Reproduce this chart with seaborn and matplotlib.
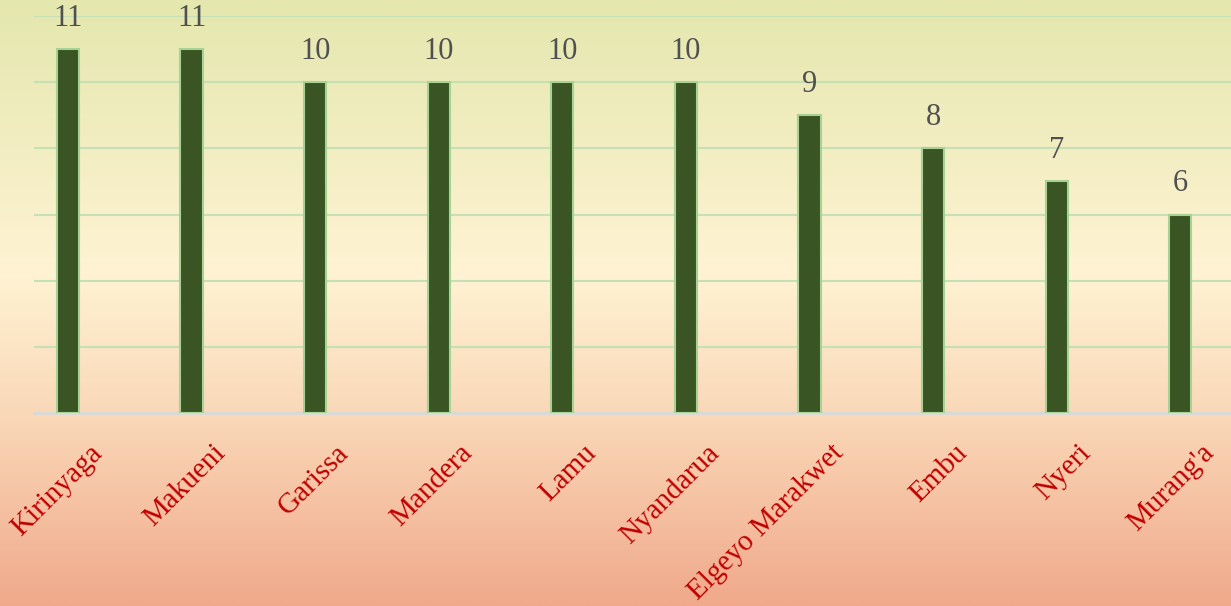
import numpy as np
import pandas as pd
import matplotlib.pyplot as plt
import matplotlib.transforms as mtransforms
from matplotlib.colors import LinearSegmentedColormap
import seaborn as sns

counties = ["Kirinyaga", "Makueni", "Garissa", "Mandera", "Lamu",
            "Nyandarua", "Elgeyo Marakwet", "Embu", "Nyeri", "Murang'a"]
counts = [11, 11, 10, 10, 10, 10, 9, 8, 7, 6]

df = pd.DataFrame({"county": counties, "count": counts})

sns.set_style("white")
plt.rcParams['font.family'] = ['Liberation Serif', 'DejaVu Serif']

fig = plt.figure(figsize=(12.31, 6.06), dpi=100)

# gradient background over the whole figure
bg = fig.add_axes([0, 0, 1, 1], zorder=0)
grad = LinearSegmentedColormap.from_list(
    "bg", [(0, "#E4E7AE"), (0.45, "#FFF3D3"), (0.7, "#F9D6B6"), (1, "#F0A98B")])
bg.imshow(np.linspace(0, 1, 256).reshape(-1, 1), aspect="auto", cmap=grad,
          extent=[0, 1, 0, 1])
bg.axis("off")

ax = fig.add_axes([34 / 1231, 1 - 413 / 606, 1 - 34 / 1231, (413 - 16) / 606], zorder=1)
ax.patch.set_alpha(0)

sns.barplot(data=df, x="county", y="count", ax=ax, color="#3A5523",
            width=0.18, saturation=1, edgecolor="#A6D395", linewidth=1.5, zorder=3)

ax.set_ylim(0, 12)
ax.set_xlim(-0.275, 9.41)
ax.set_yticks(range(0, 13, 2))
ax.yaxis.grid(True, color="#C5E0B4", linewidth=1.5, zorder=0)
ax.set_axisbelow(True)
ax.set_yticklabels([])
ax.tick_params(axis="y", length=0)
ax.tick_params(axis="x", length=0, pad=26)
ax.set_xlabel("")
ax.set_ylabel("")
for s in ["top", "right", "left"]:
    ax.spines[s].set_visible(False)
ax.spines["bottom"].set_color("#D9D9D9")
ax.spines["bottom"].set_linewidth(2)

for i, v in enumerate(counts):
    ax.text(i, v + 0.5, str(v), ha="center", va="bottom", fontsize=22,
            color="#505050", clip_on=False)

ax.set_xticks(range(len(counties)))
ax.set_xticklabels(counties, rotation=45, ha="right", va="center",
                   rotation_mode="anchor", fontsize=21, color="#C00000")
offset = mtransforms.ScaledTranslation(30 / 100, 0, fig.dpi_scale_trans)
for lab in ax.get_xticklabels():
    lab.set_transform(lab.get_transform() + offset)

fig.savefig("out.png", dpi=100)
